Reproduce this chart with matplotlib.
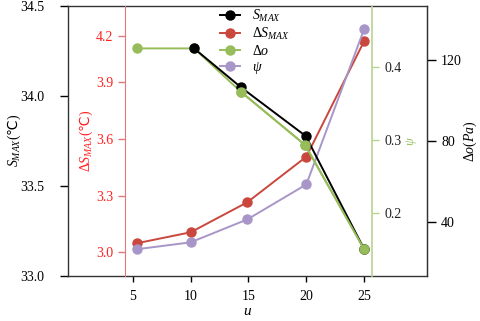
import matplotlib
matplotlib.use("Agg")
import matplotlib.pyplot as plt

plt.rcParams['font.family'] = ['Liberation Serif', 'DejaVu Serif']
plt.rcParams['mathtext.fontset'] = 'custom'
plt.rcParams['mathtext.rm'] = 'Liberation Serif'
plt.rcParams['mathtext.it'] = 'Liberation Serif:italic'
plt.rcParams['mathtext.bf'] = 'Liberation Serif:bold'
plt.rcParams['mathtext.sf'] = 'DejaVu Sans'
plt.rcParams['mathtext.fallback'] = 'stix'
plt.rcParams['font.size'] = 10

# data
x_ticks = [5, 10, 15, 20, 25]
x_smax = [10.3, 14.35, 19.95, 25.0]
smax = [34.263, 34.047, 33.776, 33.148]
x_dsmax = [5.35, 10.0, 14.9, 20.0, 25.0]
dsmax = [3.048, 3.106, 3.265, 3.506, 4.118]
x_do = [5.35, 10.3, 14.35, 19.9, 25.0]
do = [125.5, 125.5, 104.1, 77.9, 26.6]
x_psi = [5.35, 10.0, 14.9, 20.0, 25.0]
psi = [0.150, 0.1595, 0.191, 0.239, 0.4525]

c_black = '#000000'
c_red = '#c9473d'
c_green = '#96bd5a'
c_purple = '#a896c8'

DEGC = '$\\mathsf{\u2103}$'

fig = plt.figure(figsize=(4.8, 3.21), dpi=100)
ax = fig.add_axes([0.141, 0.141, 0.749, 0.841])
ax.set_xlim(-0.63, 30.45)
ax.set_ylim(33.0, 34.5)
ax.set_yticks([33.0, 33.5, 34.0, 34.5])
ax.set_yticklabels(['33.0', '33.5', '34.0', '34.5'])
ax.set_xticks(x_ticks)
ax.set_xlabel('$u$', fontsize=11, labelpad=2)
ax.set_ylabel('$S_{MAX}$(' + DEGC + ')', fontsize=10, labelpad=-2)
ax.tick_params(axis='y', direction='out', length=6, width=1, pad=11)
ax.tick_params(axis='x', direction='out', length=4, width=1, pad=6)
for s in ax.spines.values():
    s.set_linewidth(1.0)
    s.set_color('#333333')

# red axis (Delta S_MAX)
ax2 = ax.twinx()
ax2.set_ylim(2.876, 4.305)
ax2.spines['left'].set_position(('data', 4.34))
ax2.spines['left'].set_visible(True)
ax2.spines['left'].set_color('#e07a7a')
ax2.spines['right'].set_visible(False)
ax2.spines['top'].set_visible(False)
ax2.spines['bottom'].set_visible(False)
ax2.yaxis.set_ticks_position('left')
ax2.yaxis.set_label_position('left')
ax2.set_yticks([3.0, 3.3, 3.6, 3.9, 4.146])
ax2.set_yticklabels(['3.0', '3.3', '3.6', '3.9', '4.2'])
ax2.tick_params(axis='y', direction='out', length=5, width=1, colors='#e07a7a', labelcolor='#ff2020')
ax2.set_ylabel('$\\Delta S_{MAX}$(' + DEGC + ')', color='#ff2020', fontsize=10, labelpad=1)

# green axis (psi)
ax3 = ax.twinx()
ax3.set_ylim(0.1136, 0.4845)
ax3.spines['right'].set_position(('data', 25.72))
ax3.spines['right'].set_color('#b8d490')
ax3.spines['right'].set_linewidth(1.2)
ax3.spines['left'].set_visible(False)
ax3.spines['top'].set_visible(False)
ax3.spines['bottom'].set_visible(False)
ax3.set_yticks([0.2, 0.3, 0.4])
ax3.set_yticklabels(['0.2', '0.3', '0.4'])
ax3.tick_params(axis='y', direction='out', length=5, width=1, colors='#b8d490', labelcolor='#222222')
ax3.set_ylabel('$\\psi$', color=c_green, fontsize=9, labelpad=2)

# right axis (Delta o)
ax4 = ax.twinx()
ax4.set_ylim(13.5, 146.5)
ax4.set_yticks([40, 80, 120])
ax4.tick_params(axis='y', direction='out', length=6.5, width=1)
ax4.spines['right'].set_color('#333333')
for k in ['left', 'top', 'bottom']:
    ax4.spines[k].set_visible(False)
ax4.set_ylabel('$\\Delta o(Pa)$', fontsize=10, labelpad=0)

ms = 6.5
lw = 1.4
l_red, = ax2.plot(x_dsmax, dsmax, '-o', color=c_red, lw=lw, ms=ms)
l_psi, = ax3.plot(x_psi, psi, '-o', color=c_purple, lw=lw, ms=ms)
l_do, = ax4.plot(x_do, do, '-o', color=c_green, lw=lw, ms=ms)

ax5 = ax.twinx()
ax5.set_ylim(33.0, 34.5)
ax5.axis('off')
l_black, = ax5.plot(x_smax, smax, '-o', color=c_black, lw=lw, ms=ms)

# green drawn above black for its later points
ax6 = ax.twinx()
ax6.set_ylim(13.5, 146.5)
ax6.axis('off')
ax6.plot(x_do[2:], do[2:], '-o', color=c_green, lw=lw, ms=ms)

leg = ax6.legend([l_black, l_red, l_do, l_psi],
                 ['$S_{MAX}$', '$\\Delta S_{MAX}$', '$\\Delta o$', '$\\psi$'],
                 loc='upper center', bbox_to_anchor=(0.52, 1.04), frameon=False,
                 fontsize=10, handlelength=1.5, labelspacing=0.15, handletextpad=0.8)

fig.savefig('out.png', dpi=100)
